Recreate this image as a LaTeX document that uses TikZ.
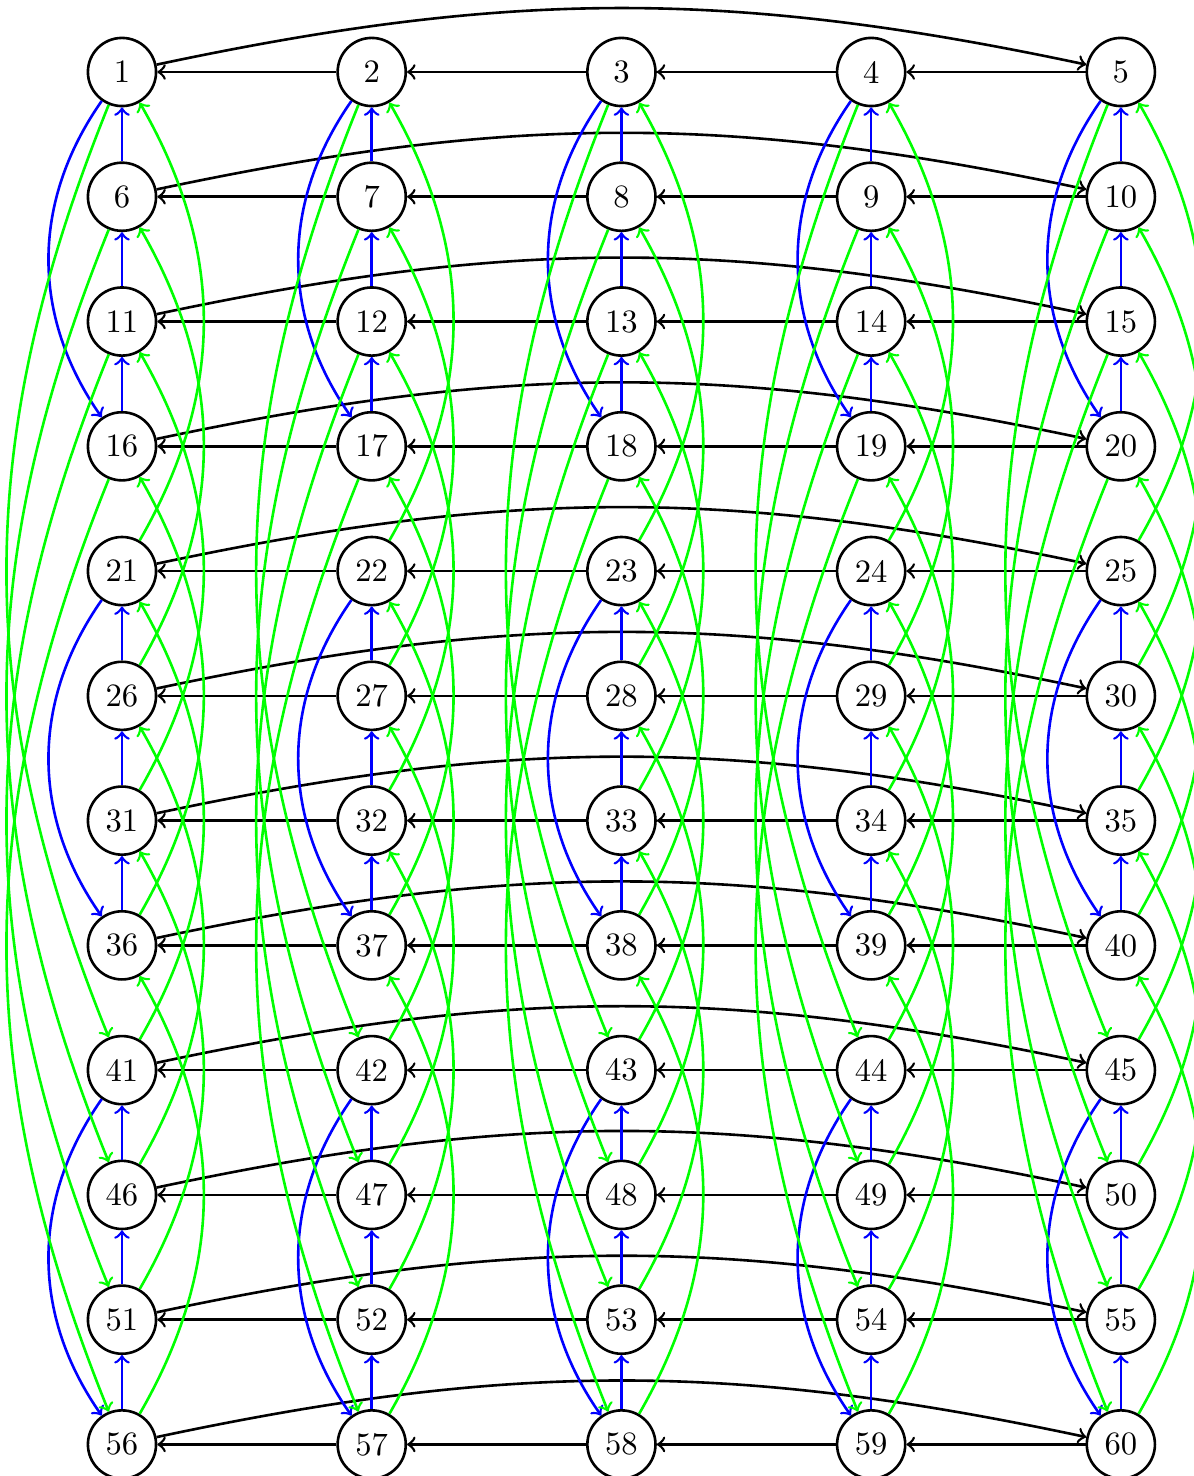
\documentclass[tikz,border=0pt]{standalone}
\tikzset{
  vtx/.style={circle,draw,thick,minimum size=20.9pt,inner sep=0pt},
  ga/.style={thick,->},
  gb/.style={thick,blue,->},
  gc/.style={thick,green,->}
}

\begin{document}
\begin{tikzpicture}[x=2.692cm,y=1.345cm,>=to]
  \useasboundingbox (-0.4885,-11.253) rectangle (4.2927,0.577);

  \foreach \r in {0,...,11}
    \foreach \c in {0,...,4} {
      \pgfmathtruncatemacro{\n}{5*\r+\c+1}
      \node[vtx] (v\n) at (\c,-\r) {\n};
    }

  \foreach \r in {0,...,11} {
    \foreach \c in {1,...,4} {
      \pgfmathtruncatemacro{\a}{5*\r+\c+1}
      \pgfmathtruncatemacro{\b}{5*\r+\c}
      \draw[ga] (v\a) -- (v\b);
    }
    \pgfmathtruncatemacro{\a}{5*\r+1}
    \pgfmathtruncatemacro{\b}{5*\r+5}
    \draw[ga] (v\a) to[bend left=12] (v\b);
  }

  \foreach \n in {1,...,60} {
    \pgfmathtruncatemacro{\k}{mod(floor((\n-1)/5),4)}
    \ifnum\k=0
      \pgfmathtruncatemacro{\m}{\n+15}
      \draw[gb] (v\n) to[bend right=35] (v\m);
    \else
      \pgfmathtruncatemacro{\m}{\n-5}
      \draw[gb] (v\n) -- (v\m);
    \fi
  }

  \foreach \n in {1,...,60} {
    \pgfmathtruncatemacro{\blk}{floor((\n-1)/20)}
    \ifnum\blk=0
      \pgfmathtruncatemacro{\m}{\n+40}
      \draw[gc] (v\n) to[bend right=22] (v\m);
    \else
      \pgfmathtruncatemacro{\m}{\n-20}
      \draw[gc] (v\n) to[bend right=30] (v\m);
    \fi
  }
\end{tikzpicture}
\end{document}
